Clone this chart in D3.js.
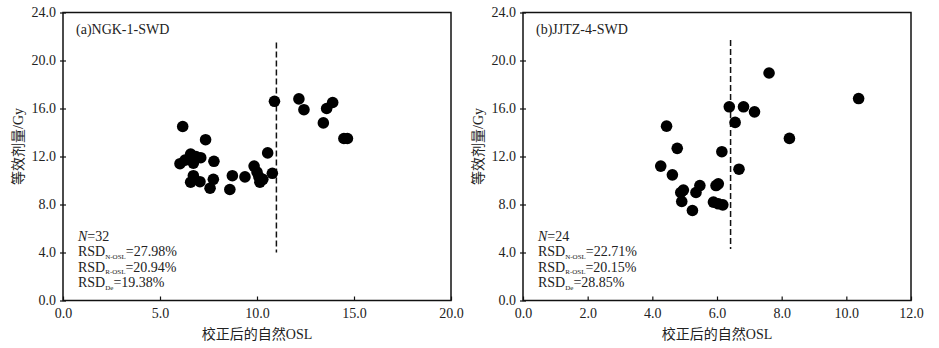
<!DOCTYPE html>
<html>
<head>
<meta charset="utf-8">
<script src="https://cdn.jsdelivr.net/npm/d3@7"></script>
<style>
  body { margin: 0; background: #fff; }
  svg text { font-family: "Liberation Serif", "DejaVu Serif", "Noto Sans CJK SC", serif; fill: #222; }
  .cjk { font-family: "Liberation Serif", "Noto Sans CJK SC", serif; }
</style>
</head>
<body>
<div id="chart"></div>
<script>
// panel (a) NGK-1-SWD : corrected natural OSL vs De (Gy)
var ngkOsl = [6.17, 7.35, 6.03, 6.29, 6.58, 6.72, 7.10, 7.78, 6.58, 6.72, 7.06, 7.75, 7.58, 8.60, 8.73, 9.38,
              9.85, 10.00, 10.15, 10.30, 10.55, 10.79, 10.90, 12.16, 12.42, 13.42, 13.59, 13.90, 14.48, 14.66, 6.85, 10.10]
var ngkDe  = [14.5, 13.4, 11.4, 11.7, 12.2, 11.45, 11.9, 11.6, 9.86, 10.4, 9.9, 10.1, 9.36, 9.25, 10.4, 10.3,
              11.2, 10.7, 9.86, 10.1, 12.3, 10.6, 16.6, 16.8, 15.9, 14.8, 16.0, 16.5, 13.5, 13.5, 12.0, 10.3]

// panel (b) JJTZ-4-SWD
var jjtzOsl = [4.44, 4.77, 4.26, 4.62, 4.88, 4.96, 4.91, 5.24, 5.35, 5.47, 6.04, 5.97, 5.89, 6.04, 6.18, 6.15,
               6.38, 6.56, 6.82, 7.16, 6.68, 7.61, 8.24, 10.38]
var jjtzDe  = [14.53, 12.68, 11.2, 10.47, 9.0, 9.2, 8.25, 7.5, 9.0, 9.58, 9.72, 9.58, 8.2, 8.06, 7.97, 12.4,
               16.14, 14.84, 16.14, 15.72, 10.94, 18.96, 13.51, 16.83]

var yTicks = [0, 4, 8, 12, 16, 20, 24]
var ngkXTicks = [0, 5, 10, 15, 20]
var jjtzXTicks = [0, 2, 4, 6, 8, 10, 12]

var xLabel = "校正后的自然OSL"
var yLabel = "等效剂量/Gy"

var panels = [
    { title: "(a)NGK-1-SWD", osl: ngkOsl, de: ngkDe, xMax: 20, xTicks: ngkXTicks,
      cut: 11.0, cutTop: 21.5, cutBottom: 4.0,
      stats: ["32", "N-OSL", "27.98%", "R-OSL", "20.94%", "De", "19.38%"], left: 63 },
    { title: "(b)JJTZ-4-SWD", osl: jjtzOsl, de: jjtzDe, xMax: 12, xTicks: jjtzXTicks,
      cut: 6.42, cutTop: 21.7, cutBottom: 4.3,
      stats: ["24", "N-OSL", "22.71%", "R-OSL", "20.15%", "De", "28.85%"], left: 523 }
]

var svg = d3.select("#chart")
    .append("svg")
        .attr("width", 939)
        .attr("height", 348)

var fmt = d3.format(".1f")

panels.forEach(function(p){ drawPanel(p) })

function drawPanel(p){
    var width = 388, height = 288, top = 12.5

    var g = svg.append("g")
        .attr("transform", "translate(" + p.left + "," + top + ")")

    var x = d3.scaleLinear().domain([0, p.xMax]).range([0, width])
    var y = d3.scaleLinear().domain([0, 24]).range([height, 0])

    var xAxis = d3.axisBottom(x).tickValues(p.xTicks).tickSizeInner(-4).tickSizeOuter(0).tickPadding(8).tickFormat(fmt)
    var yAxis = d3.axisLeft(y).tickValues(yTicks).tickSizeInner(3).tickSizeOuter(0).tickPadding(4).tickFormat(fmt)

    var xg = g.append("g").attr("transform", "translate(0," + height + ")").call(xAxis)
    var yg = g.append("g").call(yAxis)

    // y ticks cross the axis line
    yg.selectAll(".tick line").attr("x1", 3)

    ;[xg, yg].forEach(function(a){
        a.select(".domain").remove()
        a.selectAll("line").attr("stroke", "#111").attr("stroke-width", 1.2)
        a.selectAll("text").attr("font-size", "14px").attr("fill", "#333")
            .style("font-family", "'Liberation Serif', serif")
    })

    // frame
    g.append("rect")
        .attr("width", width)
        .attr("height", height)
        .attr("fill", "none")
        .attr("stroke", "#111")
        .attr("stroke-width", 1.5)

    // dashed cut-off line
    g.append("line")
        .attr("x1", x(p.cut)).attr("x2", x(p.cut))
        .attr("y1", y(p.cutTop)).attr("y2", y(p.cutBottom))
        .attr("stroke", "#111")
        .attr("stroke-width", 1.5)
        .attr("stroke-dasharray", "6,3")

    g.selectAll(".dot")
        .data(d3.range(p.osl.length))
        .enter()
        .append("circle")
            .attr("class", "dot")
            .attr("cx", function(i){ return x(p.osl[i]) })
            .attr("cy", function(i){ return y(p.de[i]) })
            .attr("r", 5.8)
            .attr("fill", "#000")

    g.append("text")
        .attr("x", 13)
        .attr("y", 21)
        .attr("font-size", "14px")
        .attr("fill", "#222")
        .text(p.title)

    // stats block
    var sx = 15, sy = 228, lh = 15.5
    var n = g.append("text").attr("x", sx).attr("y", sy).attr("font-size", "14px")
    n.append("tspan").attr("font-style", "italic").text("N")
    n.append("tspan").text("=" + p.stats[0])

    for (var k = 0; k < 3; k++){
        var t = g.append("text")
            .attr("x", sx)
            .attr("y", sy + lh * (k + 1))
            .attr("font-size", "14px")
        t.append("tspan").text("RSD")
        t.append("tspan").attr("font-size", "7px").attr("dy", 2.5).text(p.stats[1 + k*2])
        t.append("tspan").attr("dy", -2.5).text("=" + p.stats[2 + k*2])
    }

    g.append("text")
        .attr("class", "cjk")
        .attr("x", width / 2)
        .attr("y", height + 38)
        .attr("text-anchor", "middle")
        .attr("font-size", "14px")
        .attr("fill", "#333")
        .text(xLabel)

    g.append("text")
        .attr("class", "cjk")
        .attr("transform", "rotate(-90)")
        .attr("x", -height / 2 + 10)
        .attr("y", -40)
        .attr("text-anchor", "middle")
        .attr("font-size", "14px")
        .attr("fill", "#333")
        .text(yLabel)
}
</script>
</body>
</html>
